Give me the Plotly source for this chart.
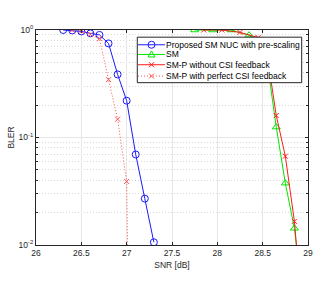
import plotly.graph_objects as go

# ---- data ----
snr_nuc = [26.3, 26.4, 26.5, 26.6, 26.7, 26.8, 26.9, 27.0, 27.1, 27.2, 27.3]
bler_nuc = [1.0, 0.99, 0.97, 0.93, 0.90, 0.75, 0.386, 0.22, 0.0695, 0.027, 0.0106]

snr_sm = [27.75, 27.95, 28.15, 28.35, 28.45, 28.55, 28.65, 28.75, 28.85, 28.95]
bler_sm = [1.0, 1.0, 1.0, 0.895, 0.78, 0.5, 0.125, 0.0376, 0.0143, 0.0028]

snr_smp = [27.85, 28.05, 28.25, 28.45, 28.55, 28.65, 28.75, 28.85, 28.95]
bler_smp = [1.0, 1.0, 0.95, 0.85, 0.58, 0.16, 0.067, 0.0166, 0.0017]

snr_smp_csi = [26.4, 26.5, 26.6, 26.7, 26.8, 26.9, 27.0, 27.1]
bler_smp_csi = [1.0, 0.97, 0.91, 0.83, 0.345, 0.148, 0.039, 1e-7]

x_ticks = [26, 26.5, 27, 27.5, 28, 28.5, 29]
y_tickvals = [1e-2, 1e-1, 1]
y_ticktext = ["10<sup>-2</sup>", "10<sup>-1</sup>", "10<sup>0</sup>"]

series_names = [
    "Proposed SM NUC with pre-scaling",
    "SM",
    "SM-P without CSI feedback",
    "SM-P with perfect CSI feedback",
]

BLUE, GREEN, RED, RED2 = "#1a1aff", "#00e600", "#ff1a1a", "#ff4d4d"
DOT = "1px,2px"
FONT = "Liberation Sans, Arial, sans-serif"
INK = "#262626"

fig = go.Figure()
fig.add_trace(go.Scatter(
    x=snr_nuc, y=bler_nuc, name=series_names[0], mode="lines+markers",
    line=dict(color=BLUE, width=1),
    marker=dict(symbol="circle-open", size=7, color=BLUE, line=dict(width=1)),
))
fig.add_trace(go.Scatter(
    x=snr_sm, y=bler_sm, name=series_names[1], mode="lines+markers",
    line=dict(color=GREEN, width=1),
    marker=dict(symbol="triangle-up-open", size=7, color=GREEN, line=dict(width=1)),
))
fig.add_trace(go.Scatter(
    x=snr_smp, y=bler_smp, name=series_names[2], mode="lines+markers",
    line=dict(color=RED, width=1),
    marker=dict(symbol="x-thin-open", size=5, color=RED, line=dict(width=1, color=RED)),
))
fig.add_trace(go.Scatter(
    x=snr_smp_csi, y=bler_smp_csi, name=series_names[3], mode="lines+markers",
    line=dict(color=RED2, width=1, dash=DOT),
    marker=dict(symbol="x-thin-open", size=5, color=RED2, line=dict(width=1, color=RED2)),
))

axis_common = dict(
    showline=True, linecolor=INK, linewidth=1, mirror="ticks",
    ticks="inside", ticklen=3, tickcolor=INK,
    showgrid=True, gridcolor="#e6e6e6", gridwidth=1,
    zeroline=False, automargin=False,
    tickfont=dict(family=FONT, size=8.5, color=INK),
)

# ---- hand-drawn legend (MATLAB-style compact box) ----
box_x0, box_x1, box_y0, box_y1 = 0.3724, 0.9768, 0.755, 0.9666
row_y = [0.9313, 0.8863, 0.8385, 0.7856]
samp_x0, samp_x1, samp_xm, text_x = 0.375, 0.474, 0.4246, 0.4695

shapes = [dict(type="rect", xref="paper", yref="paper", layer="above",
               x0=box_x0, x1=box_x1, y0=box_y0, y1=box_y1,
               fillcolor="white", line=dict(color=INK, width=1))]
annotations = []
styles = [(BLUE, None, "circle"), (GREEN, None, "tri"), (RED, None, "x"), (RED2, "dot", "x")]
for (col, dash, mk), ry, name in zip(styles, row_y, series_names):
    shapes.append(dict(type="line", xref="paper", yref="paper", layer="above",
                       x0=samp_x0, x1=samp_x1, y0=ry, y1=ry,
                       line=dict(color=col, width=1, dash=DOT if dash else "solid")))
    common = dict(xref="paper", yref="paper", layer="above",
                  xsizemode="pixel", ysizemode="pixel",
                  xanchor=samp_xm, yanchor=ry)
    if mk == "circle":
        shapes.append(dict(type="circle", x0=-3.5, x1=3.5, y0=-3.5, y1=3.5,
                           line=dict(color=col, width=1), fillcolor="rgba(0,0,0,0)", **common))
    elif mk == "tri":
        shapes.append(dict(type="path", path="M -3.5,-2.5 L 3.5,-2.5 L 0,3.5 Z",
                           line=dict(color=col, width=1), fillcolor="rgba(0,0,0,0)", **common))
    else:
        shapes.append(dict(type="path", path="M -2.5,-2.5 L 2.5,2.5 M -2.5,2.5 L 2.5,-2.5",
                           line=dict(color=col, width=1), **common))
    annotations.append(dict(xref="paper", yref="paper", x=text_x, y=ry,
                            xanchor="left", yanchor="middle", showarrow=False,
                            text=name, font=dict(family=FONT, size=8.5, color="#000000")))

fig.update_layout(
    width=332, height=285,
    margin=dict(l=36, r=24, t=29.5, b=40, autoexpand=False),
    paper_bgcolor="white", plot_bgcolor="white",
    font=dict(family=FONT, color=INK),
    showlegend=False,
    xaxis=dict(
        range=[26, 29], tickvals=x_ticks,
        title=dict(text="SNR [dB]", font=dict(size=8.5), standoff=4),
        **axis_common,
    ),
    yaxis=dict(
        type="log", range=[-2, 0],
        tickvals=y_tickvals, ticktext=y_ticktext,
        title=dict(text="BLER", font=dict(size=8.5), standoff=2),
        minor=dict(dtick="D1", ticks="inside", ticklen=2, tickcolor=INK,
                   showgrid=True, gridcolor="#d9d9d9", griddash=DOT, gridwidth=1),
        **axis_common,
    ),
    shapes=shapes,
    annotations=annotations,
)

fig.write_html("out.html",
               config={"displayModeBar": False},
               post_script="document.body.style.margin='0';document.body.style.overflow='hidden';")
